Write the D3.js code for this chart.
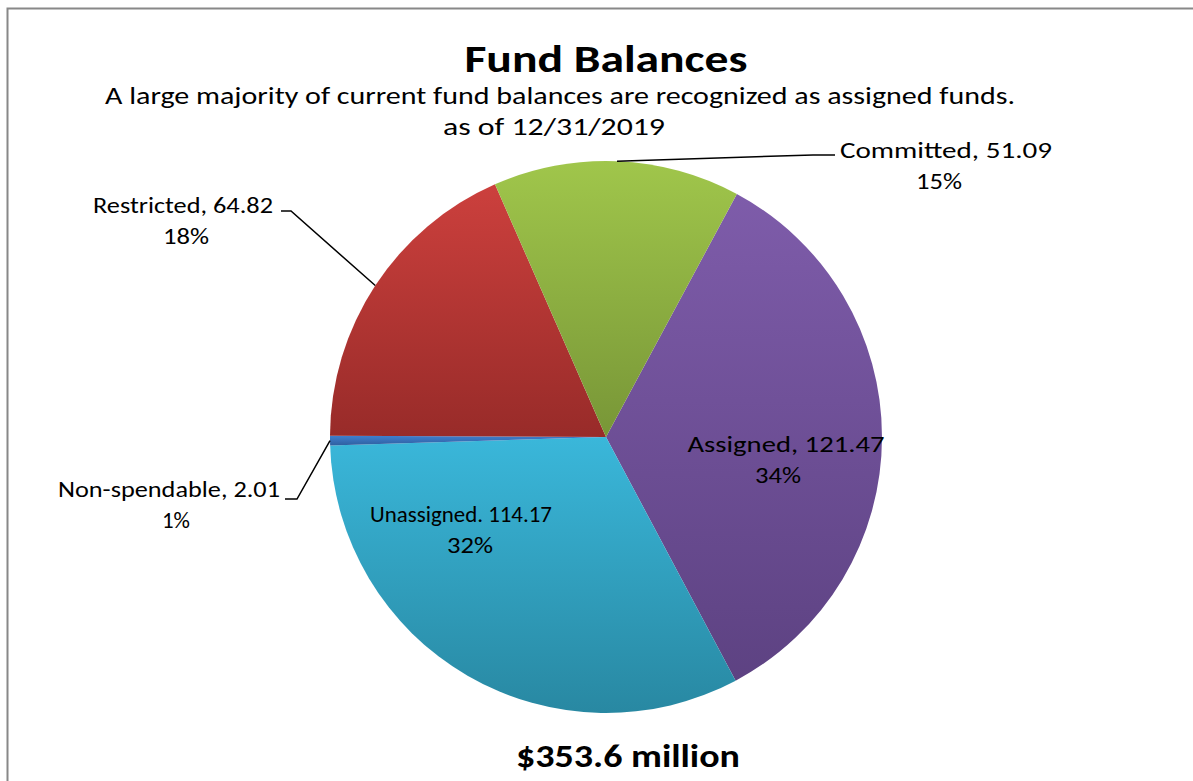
<!DOCTYPE html>
<html>
<head>
<meta charset="utf-8">
<script src="https://cdn.jsdelivr.net/npm/d3@7"></script>
<style>
  body { margin: 0; background: #fff; }
  svg text { font-family: Carlito, Calibri, "Open Sans", Lato, sans-serif; fill: #000; }
</style>
</head>
<body>
<svg id="svg"></svg>
<script>
// data, clockwise from the Committed/Assigned edge
const categories = ['Assigned', 'Unassigned', 'Non-spendable', 'Restricted', 'Committed'];
const values = [121.47, 114.17, 2.01, 64.82, 51.09];
const valueLabels = ['Assigned, 121.47', 'Unassigned. 114.17', 'Non-spendable, 2.01', 'Restricted, 64.82', 'Committed, 51.09'];
const percentLabels = ['34%', '32%', '1%', '18%', '15%'];
const colorsTop = ['#7e5caa', '#3ab7da', '#3f7fcf', '#cc403d', '#a0c64b'];
const colorsBottom = ['#5d4282', '#2888a2', '#2f5f9f', '#982b29', '#789637'];

const W = 1193, H = 781;
const cx = 606, cy = 437, r = 276;

const svg = d3.select('#svg').attr('width', W).attr('height', H);

// chart frame
svg.append('rect')
   .attr('x', 7.5).attr('y', 8.5)
   .attr('width', W + 10).attr('height', H + 10)
   .style('fill', '#fff')
   .style('stroke', '#888')
   .style('stroke-width', 2);

let defs = svg.append('defs');
categories.forEach((c, i) => {
   let g = defs.append('linearGradient')
      .attr('id', 'grad' + i)
      .attr('x1', 0).attr('y1', 0).attr('x2', 0).attr('y2', 1);
   g.append('stop').attr('offset', '0%').attr('stop-color', colorsTop[i]);
   g.append('stop').attr('offset', '100%').attr('stop-color', colorsBottom[i]);
});

let startDeg = 28.3;
let pie = d3.pie().sort(null).value(d => d)
   .startAngle(startDeg * Math.PI / 180)
   .endAngle((startDeg + 360) * Math.PI / 180);
let arcs = pie(values);
let arc = d3.arc().innerRadius(0).outerRadius(r);

let pieG = svg.append('g').attr('transform', `translate(${cx},${cy})`);
pieG.selectAll('path')
   .data(arcs)
   .enter().append('path')
   .attr('d', arc)
   .style('fill', (d, i) => `url(#grad${i})`);

function edgePoint(d) {
   let a = (d.startAngle + d.endAngle) / 2;
   return [cx + r * Math.sin(a), cy - r * Math.cos(a)];
}

// stretch text to the width it has in the original
function addText(x, y, anchor, size, weight, width, str) {
   let t = svg.append('text')
      .attr('x', x).attr('y', y)
      .attr('text-anchor', anchor)
      .style('font-size', size + 'px')
      .style('font-weight', weight)
      .text(str);
   if (width) {
      t.attr('textLength', width).attr('lengthAdjust', 'spacingAndGlyphs');
   }
   return t;
}

// label layout
let layout = [
   { x: 786, y: 452, anchor: 'middle', w: 197, px: 778, pw: 46 },
   { x: 461, y: 522, anchor: 'middle', w: 182, px: 470, pw: 46 },
   { x: 280, y: 497, anchor: 'end', w: 222, px: 176, pw: 28, leader: [[297, 499], [285, 499]] },
   { x: 273, y: 213, anchor: 'end', w: 180, px: 186, pw: 46, leader: [[291, 211], [281, 211]] },
   { x: 840, y: 158, anchor: 'start', w: 212, px: 939, pw: 46, leader: [[813, 155], [835, 155]] }
];

arcs.forEach((d, i) => {
   let l = layout[i];
   if (l.leader) {
      let pts = [edgePoint(d)].concat(l.leader);
      svg.append('path')
         .attr('d', d3.line()(pts))
         .style('fill', 'none')
         .style('stroke', '#000')
         .style('stroke-width', 1.5);
   }
   addText(l.x, l.y, l.anchor, 22, 'normal', l.w, valueLabels[i]);
   addText(l.px, l.y + 31, 'middle', 22, 'normal', l.pw, percentLabels[i]);
});

addText(606, 72, 'middle', 38, 'bold', 283, 'Fund Balances');
addText(560, 104, 'middle', 24, 'normal', 910, 'A large majority of current fund balances are recognized as assigned funds.');
addText(554, 135, 'middle', 24, 'normal', 222, 'as of 12/31/2019');
addText(628, 767, 'middle', 33, 'bold', 224, '$353.6 million');
</script>
</body>
</html>
